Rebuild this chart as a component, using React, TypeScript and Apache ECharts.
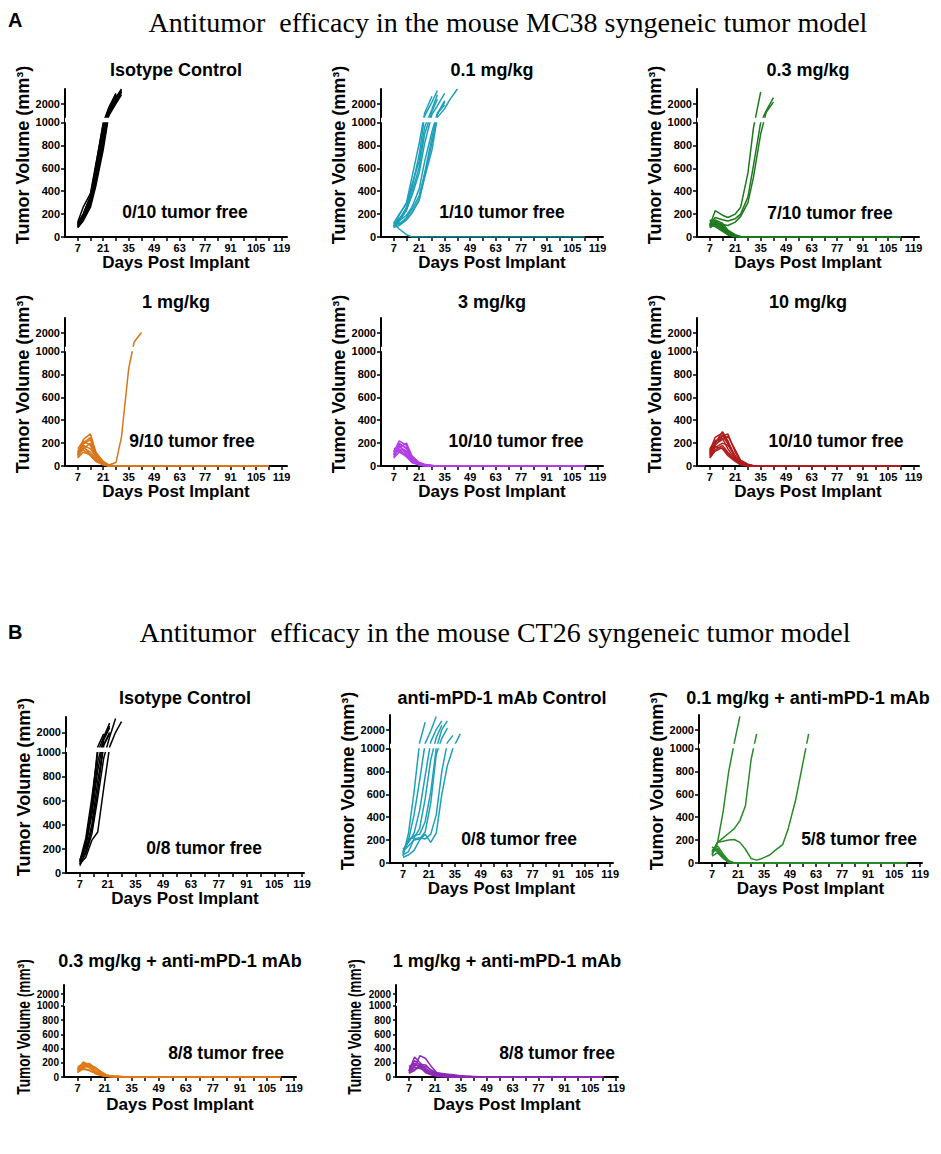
import React, { useEffect, useRef } from "react";
import * as echarts from "echarts";

// ---------- DATA ----------
const DAYS_A = [7, 10, 14, 17, 21, 24, 28, 31, 35, 38, 42, 49, 56, 63, 70, 77, 84, 91, 98, 105, 112];
const DAYS_B = [7, 10, 13, 16, 19, 22, 25, 28, 31, 34, 38, 41, 45, 48, 52, 59, 66, 73, 80, 87, 94, 101, 108, 112];

const Y_TICKS = [0, 200, 400, 600, 800, 1000, 2000];
const X_LABELS = [7, 21, 35, 49, 63, 77, 91, 105, 119];
const X_TICKS = [7, 14, 21, 28, 35, 42, 49, 56, 63, 70, 77, 84, 91, 98, 105, 112, 119];

// MC38 – Isotype Control
const A_ISO = [
  [90, 160, 300, 520, 850, 1350, 2300, 2900],
  [100, 180, 340, 580, 950, 1600, 2600],
  [85, 150, 280, 480, 800, 1250, 2100, 2800],
  [120, 200, 360, 620, 1000, 1700, 2700],
  [110, 190, 320, 550, 880, 1450, 2400, 3000],
  [95, 170, 310, 530, 820, 1300, 2200, 2700],
  [130, 260, 380, 640, 980, 1650, 2650],
  [80, 140, 260, 450, 760, 1150, 2000, 2600],
  [105, 175, 330, 570, 900, 1500, 2500],
  [115, 200, 350, 600, 930, 1550, 2450, 2850],
];
// MC38 – 0.1 mg/kg
const A_01 = [
  [100, 150, 260, 430, 720, 1150, 2100, 2900],
  [90, 190, 300, 520, 820, 1350, 2500],
  [120, 200, 290, 460, 660, 960, 1600, 2600],
  [80, 140, 230, 390, 610, 900, 1450, 2300],
  [110, 160, 240, 360, 560, 820, 1250, 1850, 2700],
  [95, 140, 190, 260, 420, 660, 920, 1350, 1900],
  [100, 120, 150, 210, 320, 520, 760, 1050, 1650, 2300, 3000],
  [130, 110, 170, 240, 360, 560, 870, 1250, 2100],
  [85, 100, 150, 210, 330, 540, 820, 1300, 2200],
  [120, 70, 20, 0, 0, 0, 0, 0, 0, 0, 0, 0, 0, 0, 0, 0, 0, 0, 0, 0, 0],
];
// MC38 – 0.3 mg/kg
const A_03 = [
  [100, 230, 190, 170, 200, 260, 560, 950, 2800],
  [110, 170, 150, 140, 160, 200, 350, 620, 1000, 1500, 2400],
  [90, 130, 110, 100, 130, 180, 300, 520, 900, 1400, 2100],
  [100, 140, 90, 40, 10, 0, 0, 0, 0, 0, 0, 0, 0, 0, 0, 0, 0, 0, 0, 0, 0],
  [130, 150, 120, 60, 20, 5, 0, 0, 0, 0, 0, 0, 0, 0, 0, 0, 0, 0, 0, 0, 0],
  [80, 110, 60, 20, 0, 0, 0, 0, 0, 0, 0, 0, 0, 0, 0, 0, 0, 0, 0, 0, 0],
  [120, 100, 70, 30, 10, 0, 0, 0, 0, 0, 0, 0, 0, 0, 0, 0, 0, 0, 0, 0, 0],
  [90, 130, 100, 50, 15, 0, 0, 0, 0, 0, 0, 0, 0, 0, 0, 0, 0, 0, 0, 0, 0],
  [150, 120, 80, 40, 10, 0, 0, 0, 0, 0, 0, 0, 0, 0, 0, 0, 0, 0, 0, 0, 0],
  [110, 90, 50, 20, 5, 0, 0, 0, 0, 0, 0, 0, 0, 0, 0, 0, 0, 0, 0, 0, 0],
];
// MC38 – 1 mg/kg
const A_1 = [
  [120, 180, 90, 40, 15, 10, 30, 250, 850, 1350, 2000],
  [100, 230, 280, 120, 40, 10, 0, 0, 0, 0, 0, 0, 0, 0, 0, 0, 0, 0, 0, 0, 0],
  [90, 200, 250, 100, 30, 0, 0, 0, 0, 0, 0, 0, 0, 0, 0, 0, 0, 0, 0, 0, 0],
  [130, 180, 150, 80, 20, 0, 0, 0, 0, 0, 0, 0, 0, 0, 0, 0, 0, 0, 0, 0, 0],
  [80, 150, 200, 90, 25, 5, 0, 0, 0, 0, 0, 0, 0, 0, 0, 0, 0, 0, 0, 0, 0],
  [110, 160, 120, 60, 15, 0, 0, 0, 0, 0, 0, 0, 0, 0, 0, 0, 0, 0, 0, 0, 0],
  [150, 220, 180, 70, 20, 0, 0, 0, 0, 0, 0, 0, 0, 0, 0, 0, 0, 0, 0, 0, 0],
  [70, 120, 100, 40, 10, 0, 0, 0, 0, 0, 0, 0, 0, 0, 0, 0, 0, 0, 0, 0, 0],
  [100, 190, 230, 110, 35, 10, 0, 0, 0, 0, 0, 0, 0, 0, 0, 0, 0, 0, 0, 0, 0],
  [120, 140, 90, 50, 10, 0, 0, 0, 0, 0, 0, 0, 0, 0, 0, 0, 0, 0, 0, 0, 0],
];
// MC38 – 3 mg/kg
const A_3 = [
  [100, 200, 150, 60, 20, 10, 5, 0, 0, 0, 0, 0, 0, 0, 0, 0, 0, 0, 0, 0, 0],
  [120, 220, 180, 80, 30, 10, 0, 0, 0, 0, 0, 0, 0, 0, 0, 0, 0, 0, 0, 0, 0],
  [80, 150, 120, 50, 15, 5, 0, 0, 0, 0, 0, 0, 0, 0, 0, 0, 0, 0, 0, 0, 0],
  [130, 180, 100, 40, 10, 0, 0, 0, 0, 0, 0, 0, 0, 0, 0, 0, 0, 0, 0, 0, 0],
  [90, 160, 200, 90, 30, 15, 5, 0, 0, 0, 0, 0, 0, 0, 0, 0, 0, 0, 0, 0, 0],
  [110, 140, 90, 30, 10, 0, 0, 0, 0, 0, 0, 0, 0, 0, 0, 0, 0, 0, 0, 0, 0],
  [150, 170, 130, 60, 20, 5, 0, 0, 0, 0, 0, 0, 0, 0, 0, 0, 0, 0, 0, 0, 0],
  [70, 120, 90, 40, 15, 5, 0, 0, 0, 0, 0, 0, 0, 0, 0, 0, 0, 0, 0, 0, 0],
  [100, 190, 160, 70, 25, 10, 5, 0, 0, 0, 0, 0, 0, 0, 0, 0, 0, 0, 0, 0, 0],
  [120, 130, 80, 30, 10, 0, 0, 0, 0, 0, 0, 0, 0, 0, 0, 0, 0, 0, 0, 0, 0],
];
// MC38 – 10 mg/kg
const A_10 = [
  [120, 200, 300, 220, 80, 30, 10, 0, 0, 0, 0, 0, 0, 0, 0, 0, 0, 0, 0, 0, 0],
  [100, 180, 260, 280, 120, 40, 10, 0, 0, 0, 0, 0, 0, 0, 0, 0, 0, 0, 0, 0, 0],
  [150, 220, 240, 150, 60, 20, 0, 0, 0, 0, 0, 0, 0, 0, 0, 0, 0, 0, 0, 0, 0],
  [80, 160, 200, 180, 90, 30, 10, 0, 0, 0, 0, 0, 0, 0, 0, 0, 0, 0, 0, 0, 0],
  [130, 250, 290, 200, 70, 20, 0, 0, 0, 0, 0, 0, 0, 0, 0, 0, 0, 0, 0, 0, 0],
  [90, 140, 180, 120, 50, 15, 0, 0, 0, 0, 0, 0, 0, 0, 0, 0, 0, 0, 0, 0, 0],
  [110, 190, 230, 260, 140, 50, 15, 5, 0, 0, 0, 0, 0, 0, 0, 0, 0, 0, 0, 0, 0],
  [140, 170, 150, 90, 40, 10, 0, 0, 0, 0, 0, 0, 0, 0, 0, 0, 0, 0, 0, 0, 0],
  [100, 210, 270, 190, 80, 25, 5, 0, 0, 0, 0, 0, 0, 0, 0, 0, 0, 0, 0, 0, 0],
  [70, 130, 160, 110, 45, 15, 0, 0, 0, 0, 0, 0, 0, 0, 0, 0, 0, 0, 0, 0, 0],
];

// CT26 – Isotype Control
const B_ISO = [
  [70, 220, 480, 850, 1500, 2300],
  [90, 260, 560, 1050, 1900],
  [100, 290, 620, 1000, 1700, 2600],
  [60, 180, 400, 760, 1200, 2000],
  [80, 160, 320, 620, 950, 1700, 2900],
  [110, 230, 520, 920, 1600, 2400],
  [75, 130, 270, 340, 700, 1050, 2000, 2700],
  [95, 170, 360, 680, 1150, 1900],
];
// CT26 – anti-mPD-1 mAb Control
const B_PD1 = [
  [60, 260, 620, 1100, 2500],
  [100, 200, 420, 720, 1050, 1900, 2900],
  [120, 180, 260, 460, 760, 1150, 2000, 2600],
  [80, 210, 220, 300, 560, 900, 1450, 2300],
  [90, 190, 240, 250, 360, 620, 1000, 2000, 2600],
  [50, 70, 110, 200, 250, 180, 260, 600, 850, 1000, 1700],
  [70, 100, 210, 220, 210, 250, 420, 800, 1100, 1600],
  [100, 150, 200, 210, 270, 520, 950, 1400, 2100],
];
// CT26 – 0.1 mg/kg + anti-mPD-1 mAb
const B_01 = [
  [80, 180, 450, 800, 1100, 2900],
  [100, 180, 220, 260, 300, 370, 500, 900, 1700],
  [70, 180, 190, 200, 205, 180, 120, 40, 25, 40, 70, 110, 160, 300, 550, 1700],
  [90, 130, 60, 10, 0, 0, 0, 0, 0, 0, 0, 0, 0, 0, 0, 0, 0, 0, 0, 0, 0, 0, 0, 0],
  [120, 100, 50, 0, 0, 0, 0, 0, 0, 0, 0, 0, 0, 0, 0, 0, 0, 0, 0, 0, 0, 0, 0, 0],
  [60, 90, 40, 5, 0, 0, 0, 0, 0, 0, 0, 0, 0, 0, 0, 0, 0, 0, 0, 0, 0, 0, 0, 0],
  [140, 110, 70, 20, 0, 0, 0, 0, 0, 0, 0, 0, 0, 0, 0, 0, 0, 0, 0, 0, 0, 0, 0, 0],
  [100, 150, 80, 15, 0, 0, 0, 0, 0, 0, 0, 0, 0, 0, 0, 0, 0, 0, 0, 0, 0, 0, 0, 0],
];
// CT26 – 0.3 mg/kg + anti-mPD-1 mAb
const B_03 = [
  [100, 210, 170, 90, 40, 20, 10, 10, 5, 5, 0, 0, 0, 0, 0, 0, 0, 0, 0, 0, 0, 0, 0, 0],
  [80, 150, 180, 120, 60, 25, 10, 5, 0, 0, 0, 0, 0, 0, 0, 0, 0, 0, 0, 0, 0, 0, 0, 0],
  [120, 170, 130, 70, 30, 15, 5, 0, 0, 0, 0, 0, 0, 0, 0, 0, 0, 0, 0, 0, 0, 0, 0, 0],
  [60, 130, 160, 140, 80, 30, 15, 10, 5, 0, 0, 0, 0, 0, 0, 0, 0, 0, 0, 0, 0, 0, 0, 0],
  [140, 190, 150, 80, 35, 15, 5, 0, 0, 0, 0, 0, 0, 0, 0, 0, 0, 0, 0, 0, 0, 0, 0, 0],
  [90, 120, 100, 60, 25, 10, 0, 0, 0, 0, 0, 0, 0, 0, 0, 0, 0, 0, 0, 0, 0, 0, 0, 0],
  [110, 160, 190, 130, 50, 20, 10, 5, 0, 0, 0, 0, 0, 0, 0, 0, 0, 0, 0, 0, 0, 0, 0, 0],
  [70, 110, 90, 50, 20, 10, 0, 0, 0, 0, 0, 0, 0, 0, 0, 0, 0, 0, 0, 0, 0, 0, 0, 0],
];
// CT26 – 1 mg/kg + anti-mPD-1 mAb
const B_1 = [
  [80, 280, 200, 120, 70, 50, 40, 30, 20, 10, 5, 0, 0, 0, 0, 0, 0, 0, 0, 0, 0, 0, 0, 0],
  [60, 150, 300, 260, 150, 60, 50, 40, 30, 20, 15, 10, 5, 0, 0, 0, 0, 0, 0, 0, 0, 0, 0, 0],
  [120, 170, 160, 100, 50, 30, 20, 10, 5, 0, 0, 0, 0, 0, 0, 0, 0, 0, 0, 0, 0, 0, 0, 0],
  [50, 90, 180, 170, 90, 40, 20, 10, 0, 0, 0, 0, 0, 0, 0, 0, 0, 0, 0, 0, 0, 0, 0, 0],
  [100, 140, 120, 80, 40, 20, 10, 5, 0, 0, 0, 0, 0, 0, 0, 0, 0, 0, 0, 0, 0, 0, 0, 0],
  [150, 190, 140, 60, 30, 10, 0, 0, 0, 0, 0, 0, 0, 0, 0, 0, 0, 0, 0, 0, 0, 0, 0, 0],
  [70, 110, 130, 150, 100, 60, 40, 20, 10, 5, 0, 0, 0, 0, 0, 0, 0, 0, 0, 0, 0, 0, 0, 0],
  [90, 230, 170, 90, 50, 30, 15, 5, 0, 0, 0, 0, 0, 0, 0, 0, 0, 0, 0, 0, 0, 0, 0, 0],
];

const TITLES = [
  "Isotype Control", "0.1 mg/kg", "0.3 mg/kg", "1 mg/kg", "3 mg/kg", "10 mg/kg",
  "Isotype Control", "anti-mPD-1 mAb Control", "0.1 mg/kg + anti-mPD-1 mAb",
  "0.3 mg/kg + anti-mPD-1 mAb", "1 mg/kg + anti-mPD-1 mAb",
];
const FREE_LABELS = [
  "0/10 tumor free", "1/10 tumor free", "7/10 tumor free", "9/10 tumor free",
  "10/10 tumor free", "10/10 tumor free", "0/8 tumor free", "0/8 tumor free",
  "5/8 tumor free", "8/8 tumor free", "8/8 tumor free",
];
const Y_NAME = "Tumor Volume (mm³)";
const X_NAME = "Days Post Implant";

// ---------- LAYOUT / STYLE ----------
const SANS = "'Liberation Sans', Arial, Helvetica, sans-serif";
const SERIF = "'Liberation Serif', 'Times New Roman', serif";

// broken y-axis: 0-1000 linear, small gap, then 1000-3000 compressed
function scaleY(v: number) {
  return v <= 1000 ? v : 1038 + (v - 1000) * 0.127;
}
const Y_MAX = scaleY(3000);

type Panel = {
  days: number[]; mice: number[][]; color: string;
  left: number; top: number; width: number; height: number; xMax: number;
  titleX: number; titleY: number; freeX: number; freeY: number;
  compact?: boolean; yNameX?: number; yNameY?: number;
};

const PANELS: Panel[] = [
  { days: DAYS_A, mice: A_ISO, color: "#000000", left: 65, top: 89, width: 222, height: 148, xMax: 122, titleX: 176, titleY: 70, freeX: 185, freeY: 212 },
  { days: DAYS_A, mice: A_01, color: "#1ea0b8", left: 381, top: 89, width: 222, height: 148, xMax: 122, titleX: 492, titleY: 70, freeX: 502, freeY: 212 },
  { days: DAYS_A, mice: A_03, color: "#1d7a1d", left: 697, top: 89, width: 222, height: 148, xMax: 122, titleX: 808, titleY: 70, freeX: 830, freeY: 213 },
  { days: DAYS_A, mice: A_1, color: "#d8761c", left: 65, top: 318, width: 222, height: 148, xMax: 122, titleX: 176, titleY: 302, freeX: 192, freeY: 441 },
  { days: DAYS_A, mice: A_3, color: "#b23fe6", left: 381, top: 318, width: 222, height: 148, xMax: 122, titleX: 492, titleY: 302, freeX: 516, freeY: 441 },
  { days: DAYS_A, mice: A_10, color: "#b01c1c", left: 697, top: 318, width: 222, height: 148, xMax: 122, titleX: 808, titleY: 302, freeX: 836, freeY: 441 },
  { days: DAYS_B, mice: B_ISO, color: "#000000", left: 66, top: 717, width: 238, height: 156, xMax: 120, titleX: 185, titleY: 698, freeX: 204, freeY: 848 },
  { days: DAYS_B, mice: B_PD1, color: "#1ea0b8", left: 390, top: 715, width: 223, height: 148, xMax: 120.5, titleX: 502, titleY: 698, freeX: 519, freeY: 839 },
  { days: DAYS_B, mice: B_01, color: "#2a8a2a", left: 699, top: 715, width: 223, height: 148, xMax: 120, titleX: 808, titleY: 698, freeX: 859, freeY: 839 },
  { days: DAYS_B, mice: B_03, color: "#e07a18", left: 64, top: 985, width: 232, height: 92, xMax: 120, titleX: 180, titleY: 961, freeX: 226, freeY: 1053, compact: true, yNameX: 24, yNameY: 1027 },
  { days: DAYS_B, mice: B_1, color: "#8c2ab5", left: 396, top: 985, width: 222, height: 92, xMax: 120, titleX: 507, titleY: 961, freeX: 557, freeY: 1053, compact: true, yNameX: 355, yNameY: 1027 },
];

function yLabel(v: number) {
  for (const t of Y_TICKS) if (Math.abs(scaleY(t) - v) < 0.5) return String(t);
  return "";
}

function textEl(text: string, x: number, y: number, size: number, family = SANS, weight = "bold", align = "center", extra: any = {}) {
  return {
    type: "text", x, y, silent: true, ...extra,
    style: {
      text, fill: "#000", fontSize: size, fontWeight: weight, fontFamily: family,
      align, verticalAlign: "middle", textAlign: align, textVerticalAlign: "middle",
    },
  };
}

function buildOption() {
  const grid: any[] = [], xAxis: any[] = [], yAxis: any[] = [], series: any[] = [], graphic: any[] = [];
  PANELS.forEach((p, i) => {
    const c = !!p.compact;
    grid.push({ left: p.left, top: p.top, width: p.width, height: p.height });
    xAxis.push({
      type: "value", gridIndex: i, min: 0, max: p.xMax,
      name: X_NAME, nameLocation: "middle", nameGap: c ? 19 : 16,
      nameTextStyle: { fontFamily: SANS, fontWeight: "bold", fontSize: 17, color: "#000" },
      axisLine: { show: true, lineStyle: { color: "#000", width: 2 } },
      axisTick: { show: true, length: 4, customValues: X_TICKS, lineStyle: { color: "#000", width: 1.5 } },
      axisLabel: { customValues: X_LABELS, margin: 5, fontFamily: SANS, fontWeight: "bold", fontSize: 11, color: "#000" },
      splitLine: { show: false },
    });
    yAxis.push({
      type: "value", gridIndex: i, min: 0, max: Y_MAX,
      name: c ? "" : Y_NAME, nameLocation: "middle", nameGap: 30, nameRotate: 90,
      nameTextStyle: { fontFamily: SANS, fontWeight: "bold", fontSize: 18, color: "#000", padding: [0, 0, 0, 16] },
      axisLine: { show: true, lineStyle: { color: "#000", width: 2 } },
      axisTick: { show: true, length: c ? 3 : 4, customValues: Y_TICKS.map(scaleY), lineStyle: { color: "#000", width: 1.5 } },
      axisLabel: { customValues: Y_TICKS.map(scaleY), formatter: yLabel, margin: 5, fontFamily: SANS, fontWeight: "bold", fontSize: c ? 10 : 11, color: "#000" },
      splitLine: { show: false },
    });
    p.mice.forEach((vals) => {
      series.push({
        type: "line", xAxisIndex: i, yAxisIndex: i, silent: true, z: 2,
        symbol: "none", showSymbol: false,
        data: vals.map((v, j) => [p.days[j], scaleY(v)]),
        lineStyle: { color: p.color, width: 1.5 },
        itemStyle: { color: p.color },
      });
    });
    // white band marking the axis break
    series.push({
      type: "line", xAxisIndex: i, yAxisIndex: i, silent: true, z: 10,
      symbol: "none", data: [[0, 0]], lineStyle: { opacity: 0 },
      markArea: {
        silent: true, z: 10,
        itemStyle: { color: "#ffffff", opacity: 1 },
        data: [[{ yAxis: 1002 }, { yAxis: 1040 }]],
      },
    });
    graphic.push(textEl(TITLES[i], p.titleX, p.titleY, 18));
    graphic.push(textEl(FREE_LABELS[i], p.freeX, p.freeY, 17.5));
    if (c) {
      // vertically squeezed axis title (row is compressed in the figure)
      graphic.push(textEl(Y_NAME, p.yNameX!, p.yNameY!, 18, SANS, "bold", "center", { rotation: Math.PI / 2, scaleX: 0.76, scaleY: 1 }));
    }
  });
  graphic.push(textEl("A", 8, 20, 20, SANS, "bold", "left"));
  graphic.push(textEl("B", 8, 632, 20, SANS, "bold", "left"));
  graphic.push(textEl("Antitumor  efficacy in the mouse MC38 syngeneic tumor model", 508, 22, 28, SERIF, "normal"));
  graphic.push(textEl("Antitumor  efficacy in the mouse CT26 syngeneic tumor model", 495, 632, 28, SERIF, "normal"));
  return { animation: false, grid, xAxis, yAxis, series, graphic };
}

export default function App() {
  const ref = useRef<HTMLDivElement>(null);
  useEffect(() => {
    document.body.style.margin = "0";
    const chart = echarts.init(ref.current!, null, { renderer: "svg" });
    chart.setOption(buildOption() as any);
    return () => chart.dispose();
  }, []);
  return <div ref={ref} style={{ width: 941, height: 1154, background: "#fff" }} />;
}
